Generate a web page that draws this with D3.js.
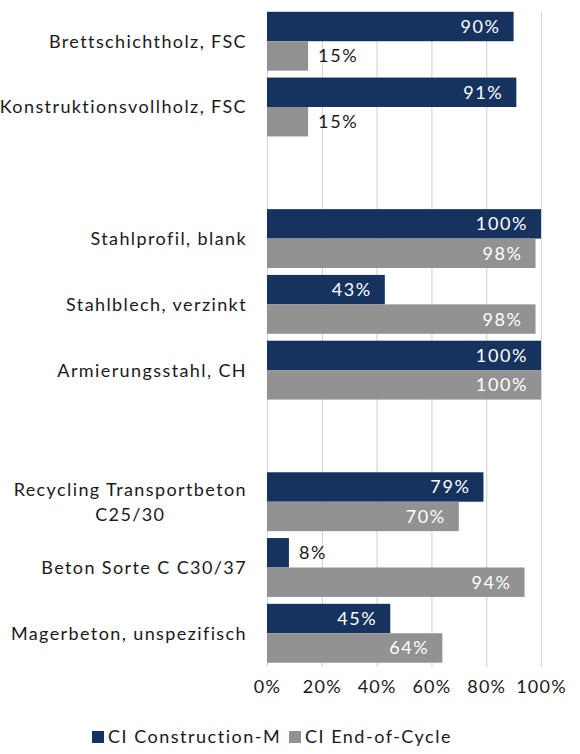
<!DOCTYPE html>
<html>
<head>
<meta charset="utf-8">
<script src="https://cdn.jsdelivr.net/npm/d3@7"></script>
<style>
  body { margin: 0; background: #fff; }
  text { font-family: Lato, "Noto Sans", sans-serif; }
</style>
</head>
<body>
<script>
// chart data (null = empty spacer slot between groups)
var categories = [
    "Brettschichtholz, FSC",
    "Konstruktionsvollholz, FSC",
    null,
    "Stahlprofil, blank",
    "Stahlblech, verzinkt",
    "Armierungsstahl, CH",
    null,
    "Recycling Transportbeton\nC25/30",
    "Beton Sorte C C30/37",
    "Magerbeton, unspezifisch"
];
var construction = [90, 91, null, 100, 43, 100, null, 79, 8, 45];
var endOfCycle = [15, 15, null, 98, 98, 100, null, 70, 94, 64];
var seriesNames = ["CI Construction-M", "CI End-of-Cycle"];
var tickValues = [0, 20, 40, 60, 80, 100];

var w = 580, h = 754;
var colors = ["#16335f", "#929292"];
var x0 = 267, x1 = 541;
var plotTop = 8.5, plotBottom = 666;
var fs = 18;

var svg = d3.select("body")
    .append("svg")
    .attr("width", w)
    .attr("height", h);

var xScale = d3.scaleLinear()
    .domain([0, 100])
    .range([x0, x1]);

var yScale = d3.scaleBand()
    .domain(d3.range(categories.length))
    .range([plotTop, plotBottom])
    .paddingInner(0.105)
    .paddingOuter(0.05);

var inner = d3.scaleBand()
    .domain([0, 1])
    .range([0, yScale.bandwidth()]);

// gridlines
svg.append("g")
    .selectAll("line")
    .data(tickValues)
    .enter()
    .append("line")
    .attr("x1", function (d) { return xScale(d) + 0.5; })
    .attr("x2", function (d) { return xScale(d) + 0.5; })
    .attr("y1", 12)
    .attr("y2", 667)
    .attr("stroke", "#d9d9d9")
    .attr("stroke-width", 1.3);

// x axis tick labels
var xAxis = d3.axisBottom(xScale)
    .tickValues(tickValues)
    .tickSize(0)
    .tickPadding(0)
    .tickFormat(function (d) { return d + "%"; });

var ax = svg.append("g")
    .attr("transform", "translate(0,680)")
    .call(xAxis);
ax.select(".domain").remove();
ax.selectAll("text")
    .attr("font-size", fs)
    .attr("fill", "#1a1a1a")
    .attr("letter-spacing", 1.2)
    .attr("font-family", "Lato, sans-serif");

// bars
var rows = [];
categories.forEach(function (c, i) {
    if (c === null) return;
    rows.push({ i: i, s: 0, v: construction[i] });
    rows.push({ i: i, s: 1, v: endOfCycle[i] });
});

svg.append("g")
    .selectAll("rect")
    .data(rows)
    .enter()
    .append("rect")
    .attr("x", xScale(0))
    .attr("y", function (d) { return yScale(d.i) + inner(d.s); })
    .attr("width", function (d) { return xScale(d.v) - xScale(0); })
    .attr("height", inner.bandwidth())
    .attr("fill", function (d) { return colors[d.s]; });

// value labels: inside end when wide enough, else just outside
svg.append("g")
    .selectAll("text")
    .data(rows)
    .enter()
    .append("text")
    .attr("x", function (d) {
        return d.v > 20 ? xScale(d.v) - 13 : xScale(d.v) + 10;
    })
    .attr("y", function (d) { return yScale(d.i) + inner(d.s) + inner.bandwidth() / 2; })
    .attr("dy", "0.36em")
    .attr("text-anchor", function (d) { return d.v > 20 ? "end" : "start"; })
    .attr("font-size", fs)
    .attr("letter-spacing", 1.6)
    .attr("fill", function (d) { return d.v > 20 ? "#ffffff" : "#1a1a1a"; })
    .text(function (d) { return d.v + "%"; });

// category labels
var catG = svg.append("g");
categories.forEach(function (c, i) {
    if (c === null) return;
    var lines = c.split("\n");
    var cy = yScale(i) + yScale.bandwidth() / 2;
    var t = catG.append("text")
        .attr("font-size", fs)
        .attr("letter-spacing", 1.4)
        .attr("fill", "#1a1a1a");
    if (lines.length === 1) {
        t.attr("x", 247).attr("y", cy).attr("dy", "0.36em")
            .attr("text-anchor", "end")
            .text(c);
    } else {
        // multi-line: block right-aligned, lines centred within it
        t.attr("text-anchor", "middle");
        var lh = 25;
        lines.forEach(function (l, k) {
            t.append("tspan")
                .attr("x", 0)
                .attr("y", cy + (k - (lines.length - 1) / 2) * lh)
                .attr("dy", "0.36em")
                .text(l);
        });
        var bw = t.node().getBBox().width;
        t.selectAll("tspan").attr("x", 247 - bw / 2);
    }
});

// legend
var legend = svg.append("g");
var lx = [92, 289];
seriesNames.forEach(function (name, k) {
    legend.append("rect")
        .attr("x", lx[k])
        .attr("y", 731)
        .attr("width", 12)
        .attr("height", 12)
        .attr("fill", colors[k]);
    legend.append("text")
        .attr("x", lx[k] + 16)
        .attr("y", 737)
        .attr("dy", "0.36em")
        .attr("font-size", fs)
        .attr("letter-spacing", 1.5)
        .attr("fill", "#1a1a1a")
        .text(name);
});
</script>
</body>
</html>
